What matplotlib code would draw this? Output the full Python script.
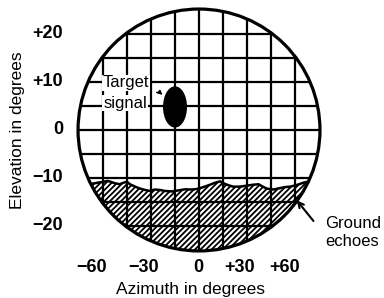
import matplotlib.pyplot as plt
from matplotlib.patches import Circle, Ellipse

plt.rcParams['font.family'] = ['Liberation Sans', 'DejaVu Sans']
plt.rcParams['hatch.linewidth'] = 1.3

# scope face, units = degrees of elevation
radius = 25.2
grid_steps = [-20, -15, -10, -5, 0, 5, 10, 15, 20]

elev_ticks = [20, 10, 0, -10, -20]
elev_labels = ['+20', '+10', '0', '\u221210', '\u221220']
az_labels = ['\u221260', '\u221230', '0', '+30', '+60']
az_pos = [-22.3, -11.5, -0.2, 8.5, 17.9]   # where the azimuth labels sit on the face

# top edge of the ground echoes
ground_x = [-26, -22.3, -21.2, -20.0, -19.0, -17.5, -16.5, -15.8, -15.0, -14.4, -13.3,
            -12.3, -11.2, -10.2, -9.2, -8.1, -7.1, -5.6, -4.4, -2.9, -1.5, -0.5,
            0.9, 2.3, 3.3, 4.4, 5.1, 6.1, 7.1, 8.5, 9.9, 11.3, 12.4, 13.1, 14.1,
            15.5, 16.9, 17.9, 19.0, 20.4, 21.7, 26]
ground_y = [-11.2, -11.2, -11.0, -10.8, -10.6, -11.1, -11.3, -11.0, -10.8, -11.3, -11.8,
            -12.2, -12.5, -12.7, -12.4, -12.5, -12.7, -12.8, -12.6, -12.35, -12.4, -12.3,
            -11.9, -11.4, -11.0, -10.7, -11.1, -11.5, -11.8, -11.8, -11.6, -11.4, -11.3,
            -11.7, -12.2, -12.4, -12.1, -11.9, -11.8, -11.45, -11.0, -10.0]

# target blip
target_xy = (-5.0, 4.8)
target_w = 4.7
target_h = 8.3

fig = plt.figure(figsize=(3.84, 2.98), dpi=100)
ax = fig.add_axes([0, 0, 1, 1])
ax.set_xlim(-41.46, 38.54)
ax.set_ylim(-35, 27.08)
ax.set_aspect('equal')
ax.axis('off')

face = Circle((0, 0), radius, fill=False, ec='black', lw=2.3, zorder=6)
ax.add_patch(face)

# ground echoes
gnd = ax.fill_between(ground_x, ground_y, -radius - 2, facecolor='white',
                      edgecolor='black', hatch='//////', lw=0, zorder=1)
gnd.set_clip_path(face)
edge, = ax.plot(ground_x, ground_y, color='black', lw=1.8, zorder=3)
edge.set_clip_path(face)

# grid
for v in grid_steps:
    l1, = ax.plot([v, v], [-radius, radius], color='black', lw=1.6, zorder=2)
    l2, = ax.plot([-radius, radius], [v, v], color='black', lw=1.6, zorder=2)
    l1.set_clip_path(face)
    l2.set_clip_path(face)

ax.add_patch(Ellipse(target_xy, target_w, target_h, color='black', zorder=4))

# labels
for y, s in zip(elev_ticks, elev_labels):
    ax.text(-28.3, y, s, ha='right', va='center', fontsize=13, fontweight='bold')
for x, s in zip(az_pos, az_labels):
    ax.text(x, -28.75, s, ha='center', va='center', fontsize=13, fontweight='bold')
ax.text(-37.9, 0, 'Elevation in degrees', rotation=90, ha='center', va='center', fontsize=12.5)
ax.text(-1.7, -33.3, 'Azimuth in degrees', ha='center', va='center', fontsize=12.5)

box = dict(fc='white', ec='none', pad=0.6)
ax.text(-15.2, 9.8, 'Target', ha='center', va='center', fontsize=12, bbox=box, zorder=5)
ax.text(-15.4, 5.6, 'signal', ha='center', va='center', fontsize=12, bbox=box, zorder=5)
ax.annotate('', xy=(-7.2, 6.9), xytext=(-9.4, 7.8), zorder=5,
            arrowprops=dict(arrowstyle='-|>', lw=1, color='black', mutation_scale=6,
                            connectionstyle='arc3,rad=-0.3'))

ax.text(26.2, -19.4, 'Ground', ha='left', va='center', fontsize=12)
ax.text(26.2, -23.3, 'echoes', ha='left', va='center', fontsize=12)
ax.annotate('', xy=(20.0, -14.2), xytext=(24.2, -19.4), zorder=7,
            arrowprops=dict(arrowstyle='->', lw=1.5, color='black', mutation_scale=10))

fig.savefig('out.png', dpi=100)
